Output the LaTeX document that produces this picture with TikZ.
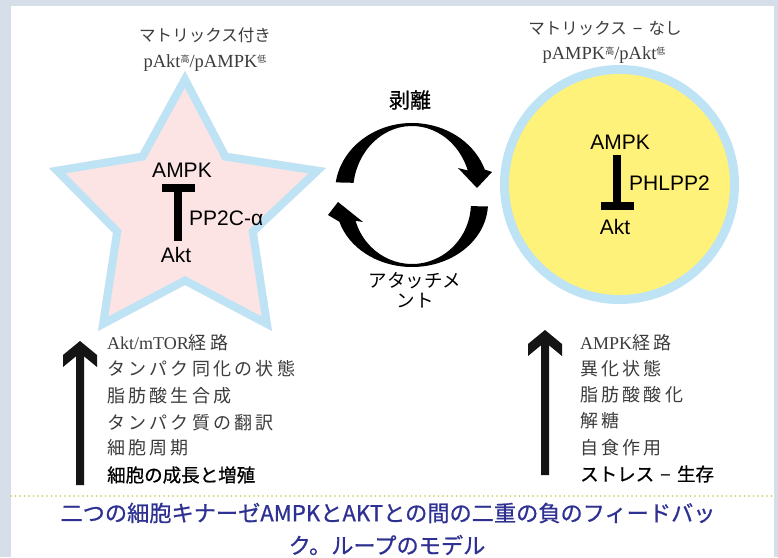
\documentclass[tikz,border=0pt]{standalone}
\usepackage{fontspec}
\setmainfont{Liberation Sans}
\newfontfamily\jp{Noto Sans CJK JP}
\newfontfamily\jpsp{Noto Sans CJK JP}[LetterSpace=18]
\newfontfamily\jpb{Noto Sans CJK JP}[FakeBold=0.8]
\newfontfamily\ser{Liberation Serif}
\newfontfamily\lsans{Liberation Sans}
\definecolor{bgstrip}{RGB}{214,222,234}
\definecolor{rim}{RGB}{190,227,245}
\definecolor{starfill}{RGB}{253,228,228}
\definecolor{cellyel}{RGB}{255,242,122}
\definecolor{lbl}{RGB}{60,60,60}
\definecolor{capblue}{RGB}{46,49,146}
\definecolor{dotcol}{RGB}{200,200,70}
\newcommand\supj[1]{\raisebox{0.6ex}{\fontsize{9}{9}\selectfont\jp #1}}
\newcommand\dashsep{\hspace{6pt}{\lsans −}\hspace{6pt}}
\begin{document}
\begin{tikzpicture}[x=1pt,y=1pt,
  protein/.style={inner sep=0pt, font=\fontsize{21}{21}\selectfont, text=black},
  inhib/.style={line width=8pt, line cap=butt, black},
  toplbl/.style={inner sep=0pt, text=lbl, font=\fontsize{16.5}{16.5}\selectfont},
  toplat/.style={inner sep=0pt, text=lbl, font=\fontsize{18.5}{18.5}\selectfont\ser},
  cyc/.style={inner sep=0pt, align=center, text=black},
  lst/.style={inner sep=0pt, anchor=west, text=lbl, font=\fontsize{18}{18}\selectfont\jpsp},
  lstb/.style={inner sep=0pt, anchor=west, text=black, font=\fontsize{18.5}{18.5}\selectfont\jpb},
  capt/.style={inner sep=0pt, text=capblue, font=\fontsize{22.2}{22.2}\selectfont\jpb},
  bigarrow/.style={fill=black!92}
]
\useasboundingbox (0,0) rectangle (778,557);
\fill[bgstrip] (0,0) rectangle (778,557);
\fill[white] (11,0) rectangle (774,551);

% star (matrix-attached cell)
\def\starpath{(185,486) -- (228,404) -- (326,389) -- (257,324) -- (272,226) -- (185,272) -- (98,226) -- (113,324) -- (49,389) -- (140,404) -- cycle}
\begin{scope}
  \clip \starpath;
  \fill[starfill] \starpath;
  \draw[rim, line width=16pt, line join=miter] \starpath;
\end{scope}

% circle (matrix-detached cell)
\fill[rim] (619.5,372.5) circle[radius=119.5];
\fill[cellyel] (619.5,372.5) circle[radius=110.5];

% star contents
\node[protein] (ampkA) at (182,387) {AMPK};
\node[protein, anchor=west] (pp2c) at (189,339) {PP2C-α};
\node[protein] (aktA) at (176,302) {Akt};
\coordinate (tA1) at (178,316);
\coordinate (tA2) at (178,369);
\coordinate (bA1) at (162,369);
\coordinate (bA2) at (195,369);
\draw[inhib] (tA1) -- (tA2);
\draw[inhib] (bA1) -- (bA2);

% circle contents
\node[protein] (ampkB) at (620,415) {AMPK};
\node[protein, anchor=west] (phl) at (629,374) {PHLPP2};
\node[protein] (aktB) at (615,330) {Akt};
\coordinate (tB1) at (617,402);
\coordinate (tB2) at (617,351);
\coordinate (bB1) at (601,351);
\coordinate (bB2) at (634,351);
\draw[inhib] (tB1) -- (tB2);
\draw[inhib] (bB1) -- (bB2);

% top labels
\node[toplbl] (matA) at (205,522) {\jp マトリックス付き};
\node[toplat] (ratA) at (205,494) {pAkt\supj{高}/pAMPK\supj{低}};
\node[toplbl] (matB) at (605,529) {\jp マトリックス\dashsep なし};
\node[toplat] (ratB) at (604,502) {pAMPK\supj{高}/pAkt\supj{低}};

% cycle arrows
\fill[black] ({412+77*cos(172)},{365+69*sin(172)})
  arc[start angle=172, end angle=19, x radius=77, y radius=69]
  -- (492,385) -- (477,369) -- (458,389)
  -- ({412+59*cos(19)},{365+66*sin(19)})
  arc[start angle=19, end angle=172, x radius=59, y radius=66] -- cycle;
\fill[black] ({412+76*cos(-3)},{354+64*sin(-3)})
  arc[start angle=-3, end angle=-163, x radius=76, y radius=64]
  -- (328,342) -- (338,355) -- (363,335)
  -- ({412+59*cos(-163)},{354+61*sin(-163)})
  arc[start angle=-163, end angle=-3, x radius=59, y radius=61] -- cycle;
\node[cyc, font=\fontsize{21}{21}\selectfont\jpb] (detach) at (410,457) {剥離};
\node[cyc, font=\fontsize{18.5}{20}\selectfont\jp] (attach) at (415,267) {アタッチメ\\ント};

% big up arrows
\fill[bigarrow] (63,202) -- (80,216) -- (97,202) -- (97,190) -- (84,200.7) -- (84,72)
  -- (76,72) -- (76,200.7) -- (63,190) -- cycle;
\fill[bigarrow] (528,213) -- (545,227) -- (562,213) -- (562,201) -- (549,211.7) -- (549,82)
  -- (541,82) -- (541,211.7) -- (528,201) -- cycle;

% left list
\node[lst] (l1) at (107,214) {{\ser Akt/mTOR}経路};
\node[lst] (l2) at (107,188) {タンパク同化の状態};
\node[lst] (l3) at (107,161) {脂肪酸生合成};
\node[lst] (l4) at (107,134) {タンパク質の翻訳};
\node[lst] (l5) at (107,109) {細胞周期};
\node[lstb] (l6) at (107,82) {細胞の成長と増殖};

% right list
\node[lst] (r1) at (580,214) {{\ser AMPK}経路};
\node[lst] (r2) at (580,188) {異化状態};
\node[lst] (r3) at (580,162) {脂肪酸酸化};
\node[lst] (r4) at (580,136) {解糖};
\node[lst] (r5) at (580,109) {自食作用};
\node[lstb] (r6) at (580,83) {ストレス\dashsep 生存};

% dotted separator
\draw[dotcol, line width=1.8pt, dash pattern=on 0pt off 4.5pt, line cap=round] (11,61) -- (774,61);

% caption
\node[capt] (cap1) at (388,44) {二つの細胞キナーゼAMPKとAKTとの間の二重の負のフィードバッ};
\node[capt] (cap2) at (387,12) {ク。ループのモデル};
\end{tikzpicture}
\end{document}
